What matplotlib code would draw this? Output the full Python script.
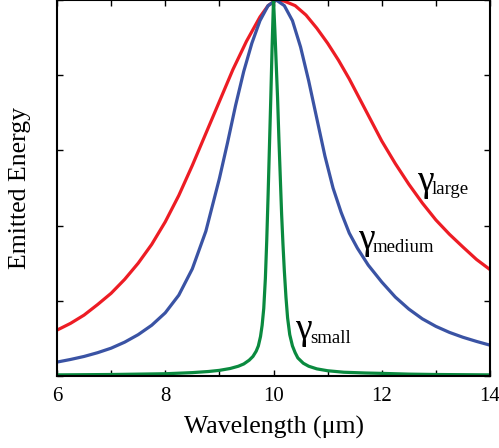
import matplotlib
matplotlib.use("Agg")
import matplotlib.pyplot as plt

plt.rcParams['font.family'] = ['Liberation Serif', 'DejaVu Serif']

# values
red_x = [6.0, 6.25, 6.5, 6.75, 7.0, 7.25, 7.5, 7.75, 8.0, 8.25, 8.5, 8.75, 9.0, 9.25,
         9.5, 9.75, 9.9, 10.05, 10.2, 10.4, 10.6, 10.8, 11.0, 11.2, 11.4, 11.6, 11.8,
         12.0, 12.25, 12.5, 12.75, 13.0, 13.25, 13.5, 13.75, 14.0]
red_y = [0.122, 0.14, 0.162, 0.19, 0.22, 0.257, 0.30, 0.35, 0.41, 0.48, 0.56, 0.645,
         0.73, 0.815, 0.89, 0.955, 0.985, 1.0, 0.997, 0.985, 0.96, 0.925, 0.885, 0.84,
         0.79, 0.735, 0.68, 0.625, 0.565, 0.51, 0.46, 0.415, 0.377, 0.343, 0.31, 0.283]

blue_x = [6.0, 6.25, 6.5, 6.75, 7.0, 7.25, 7.5, 7.75, 8.0, 8.25, 8.5, 8.75, 9.0, 9.15,
          9.3, 9.45, 9.6, 9.75, 9.9, 10.05, 10.2, 10.35, 10.5, 10.65, 10.8, 10.95, 11.1,
          11.25, 11.4, 11.55, 11.75, 12.0, 12.25, 12.5, 12.75, 13.0, 13.25, 13.5, 13.75,
          14.0]
blue_y = [0.037, 0.044, 0.052, 0.062, 0.074, 0.09, 0.11, 0.135, 0.168, 0.215, 0.285,
          0.385, 0.525, 0.62, 0.72, 0.81, 0.885, 0.945, 0.985, 1.0, 0.985, 0.945, 0.875,
          0.785, 0.685, 0.585, 0.50, 0.435, 0.38, 0.34, 0.295, 0.25, 0.21, 0.178, 0.152,
          0.132, 0.116, 0.103, 0.092, 0.082]

green_x = [6.0, 6.5, 7.0, 7.5, 8.0, 8.5, 8.8, 9.0, 9.2, 9.35, 9.45, 9.55, 9.62, 9.68,
           9.72, 9.76, 9.79, 9.82, 9.85, 9.875, 9.9, 9.925, 9.95, 9.975, 10.0, 10.025,
           10.05, 10.075, 10.1, 10.125, 10.15, 10.175, 10.2, 10.23, 10.26, 10.3, 10.35,
           10.4, 10.45, 10.55, 10.65, 10.8, 11.0, 11.3, 11.7, 12.0, 12.5, 13.0, 14.0]
green_y = [0.003, 0.0035, 0.004, 0.005, 0.006, 0.009, 0.012, 0.015, 0.02, 0.026, 0.032,
           0.042, 0.052, 0.066, 0.08, 0.105, 0.135, 0.18, 0.26, 0.36, 0.48, 0.61, 0.74,
           0.88, 1.0, 0.92, 0.83, 0.74, 0.63, 0.53, 0.43, 0.35, 0.28, 0.21, 0.155, 0.11,
           0.08, 0.062, 0.048, 0.034, 0.026, 0.019, 0.014, 0.01, 0.008, 0.007, 0.005,
           0.004, 0.003]

labels = ['large', 'medium', 'small']
label_x = [12.80, 11.71, 10.545]
label_y = [0.516, 0.362, 0.122]

fig = plt.figure(figsize=(4.99, 4.48), dpi=100)
ax = fig.add_axes([0.1142, 0.1607, 0.982 - 0.1142, 1.0 - 0.1607])

ax.plot(red_x, red_y, color='#ED1C24', lw=2.3, solid_joinstyle='round')
ax.plot(blue_x, blue_y, color='#3A53A4', lw=2.3, solid_joinstyle='round')
ax.plot(green_x, green_y, color='#0A8A3F', lw=2.3, solid_joinstyle='round')

for name, lx, ly in zip(labels, label_x, label_y):
    ax.text(lx, ly, '\u03b3', fontsize=27, ha='center', va='center')
    ax.annotate(name, xy=(lx, ly), xytext=(5, -9), textcoords='offset points',
                fontsize=13.5, ha='left', va='baseline')

ax.set_xlim(6, 14)
ax.set_ylim(0, 1)
ax.set_xticks(range(6, 15))
ax.set_xticklabels([str(v) if v % 2 == 0 else '' for v in range(6, 15)])
ax.set_yticks([0, 0.2, 0.4, 0.6, 0.8, 1.0])
ax.set_yticklabels([])
ax.tick_params(direction='in', length=4, width=1, top=True, right=True,
               labelsize=15, pad=8, colors='black')
for s in ax.spines.values():
    s.set_linewidth(1.5)

ax.set_xlabel('Wavelength (\u03bcm)', fontsize=18.5, labelpad=7)
ax.set_ylabel('Emitted Energy', fontsize=18.5, labelpad=11)

fig.savefig('out.png', dpi=100)
